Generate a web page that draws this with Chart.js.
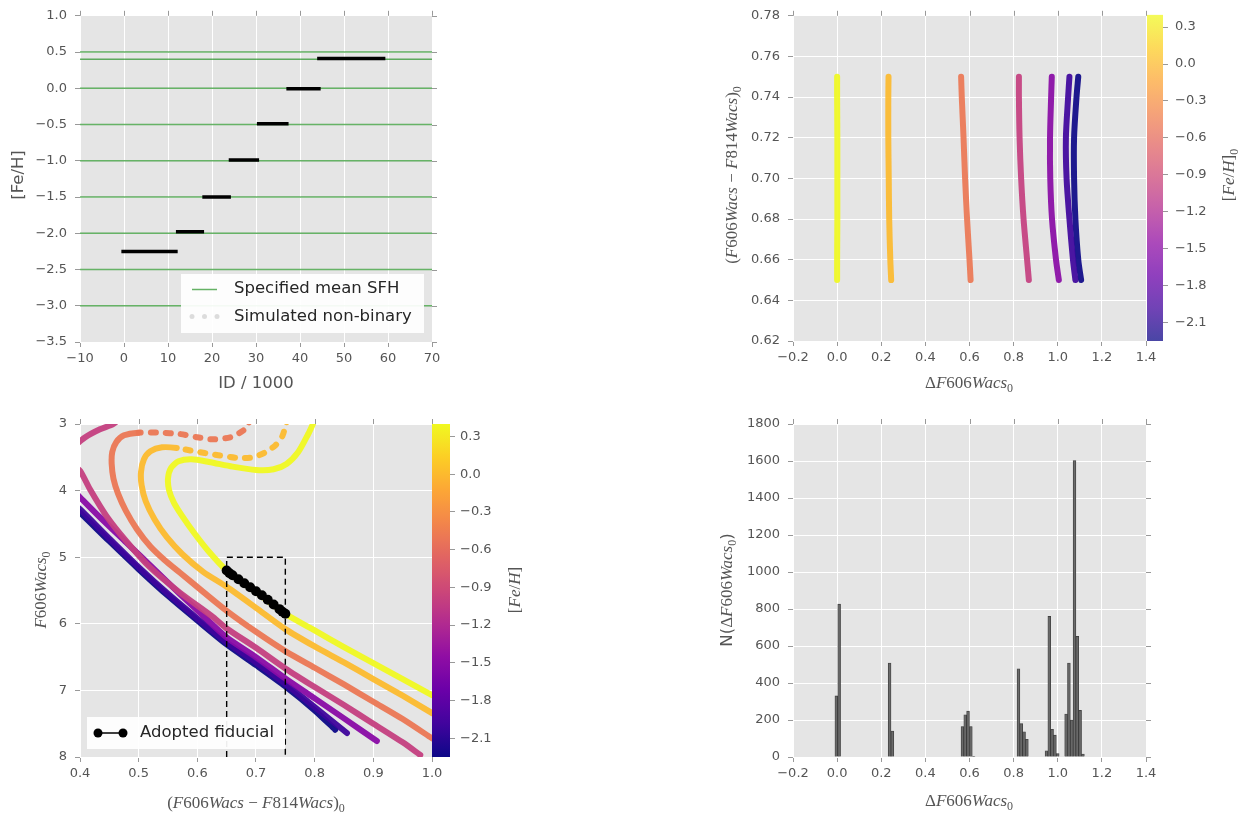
<!DOCTYPE html>
<html><head><meta charset="utf-8">
<script src="https://cdn.jsdelivr.net/npm/chart.js@4.4.1/dist/chart.umd.min.js"></script>
<style>
html,body{margin:0;padding:0;background:#fff;}
#wrap{position:relative;width:1254px;height:816px;overflow:hidden;background:#fff;}
#wrap canvas{position:absolute;left:0;top:0;}
</style></head><body><div id="wrap">
<canvas id="c1" width="1254" height="816"></canvas>
<canvas id="c2" width="1254" height="816"></canvas>
<canvas id="c2cb" width="1254" height="816"></canvas>
<canvas id="c3" width="1254" height="816"></canvas>
<canvas id="c3cb" width="1254" height="816"></canvas>
<canvas id="c4" width="1254" height="816"></canvas>
</div>
<script>
// ---------------- DATA ----------------
// Panel 1: [Fe/H] vs ID/1000
const p1XTicks = [-10, 0, 10, 20, 30, 40, 50, 60, 70];
const p1YTicks = [-3.5, -3.0, -2.5, -2.0, -1.5, -1.0, -0.5, 0.0, 0.5, 1.0];
const sfhLevels = [0.5, 0.4, 0.0, -0.5, -1.0, -1.5, -2.0, -2.5, -3.0];
const simFeH = [-2.25, -1.98, -1.5, -0.99, -0.49, -0.005, 0.41];
const simIdStart = [-0.6, 11.8, 17.8, 23.8, 30.2, 36.9, 43.9];
const simIdEnd = [12.2, 18.2, 24.3, 30.7, 37.4, 44.7, 59.4];

// Panel 2: colour vs Delta F606W, one track per [Fe/H]
const p2XTicks = [-0.2, 0.0, 0.2, 0.4, 0.6, 0.8, 1.0, 1.2, 1.4];
const p2YTicks = [0.62, 0.64, 0.66, 0.68, 0.70, 0.72, 0.74, 0.76, 0.78];
const trackColour = [0.65, 0.66, 0.68, 0.70, 0.72, 0.74, 0.75];
const trackFeH = [0.4, 0.0, -0.5, -1.0, -1.5, -2.0, -2.25];
const dF_p040 = [0.000, 0.000, 0.001, 0.001, 0.001, 0.000, 0.000];
const dF_p000 = [0.245, 0.241, 0.236, 0.234, 0.232, 0.232, 0.233];
const dF_m050 = [0.605, 0.600, 0.589, 0.580, 0.573, 0.565, 0.562];
const dF_m100 = [0.869, 0.861, 0.845, 0.834, 0.827, 0.824, 0.824];
const dF_m150 = [1.005, 0.992, 0.974, 0.966, 0.965, 0.970, 0.973];
const dF_m200 = [1.080, 1.069, 1.053, 1.040, 1.037, 1.047, 1.053];
const dF_m225 = [1.106, 1.093, 1.080, 1.074, 1.074, 1.085, 1.093];

// Colour bars
const cbRange = [-2.25, 0.4];
const cbTicks = [0.3, 0.0, -0.3, -0.6, -0.9, -1.2, -1.5, -1.8, -2.1];

// Panel 3: CMD isochrones
const p3XTicks = [0.4, 0.5, 0.6, 0.7, 0.8, 0.9, 1.0];
const p3YTicks = [3, 4, 5, 6, 7, 8];
const isoC_p040 = [0.802,0.797,0.789,0.772,0.752,0.730,0.700,0.660,0.620,0.590,0.568,0.555,0.550,0.552,0.560,0.574,0.594,0.618,0.650,0.700,0.750,0.800,0.850,0.900,0.950,1.000];
const isoM_p040 = [2.90,3.00,3.15,3.42,3.60,3.68,3.69,3.64,3.57,3.53,3.56,3.66,3.82,4.00,4.18,4.38,4.63,4.90,5.20,5.52,5.85,6.10,6.35,6.59,6.83,7.07];
const isoC_p000 = [0.755,0.751,0.745,0.733,0.715,0.695,0.670,0.630,0.595,0.565,0.540,0.520,0.509,0.504,0.505,0.512,0.527,0.548,0.575,0.610,0.650,0.700,0.750,0.800,0.850,0.900,0.950,1.000];
const isoM_p000 = [2.90,3.00,3.18,3.32,3.43,3.50,3.51,3.46,3.41,3.36,3.35,3.41,3.53,3.72,3.92,4.16,4.43,4.70,4.96,5.22,5.445,5.76,6.08,6.34,6.58,6.83,7.08,7.34];
const isoC_m050 = [0.690,0.687,0.678,0.656,0.627,0.600,0.570,0.536,0.500,0.475,0.462,0.455,0.454,0.457,0.465,0.478,0.497,0.520,0.545,0.570,0.610,0.650,0.700,0.750,0.800,0.850,0.900,0.950,1.000];
const isoM_m050 = [2.90,3.00,3.10,3.20,3.23,3.20,3.15,3.13,3.13,3.17,3.27,3.42,3.60,3.82,4.05,4.30,4.58,4.84,5.05,5.23,5.52,5.805,6.12,6.41,6.66,6.91,7.17,7.43,7.72];
const isoC_m100 = [0.470,0.457,0.434,0.409,0.390,0.385,0.388,0.400,0.417,0.445,0.479,0.519,0.570,0.627,0.650,0.700,0.750,0.800,0.850,0.900,0.950,0.980];
const isoM_m100 = [2.90,3.00,3.08,3.20,3.35,3.50,3.62,3.70,3.98,4.38,4.76,5.15,5.53,5.90,6.07,6.36,6.67,6.95,7.22,7.50,7.78,7.97];
const isoC_m150 = [0.380,0.400,0.434,0.479,0.525,0.570,0.610,0.650,0.700,0.750,0.800,0.850,0.906];
const isoM_m150 = [3.93,4.10,4.40,4.78,5.17,5.55,5.88,6.205,6.50,6.82,7.12,7.42,7.76];
const isoC_m200 = [0.380,0.400,0.450,0.500,0.550,0.600,0.650,0.700,0.750,0.800,0.855];
const isoM_m200 = [4.12,4.28,4.72,5.15,5.55,5.92,6.28,6.58,6.90,7.25,7.64];
const isoC_m225 = [0.380,0.400,0.450,0.500,0.550,0.600,0.650,0.700,0.750,0.800,0.835];
const isoM_m225 = [4.17,4.33,4.76,5.18,5.58,5.95,6.31,6.62,6.94,7.30,7.59];
const fidColour = [0.650,0.655,0.660,0.670,0.680,0.690,0.700,0.710,0.720,0.730,0.740,0.745,0.750];
const fidMag    = [5.20,5.24,5.27,5.33,5.39,5.45,5.51,5.57,5.64,5.71,5.78,5.82,5.85];
const boxColour = [0.65, 0.65, 0.75, 0.75];
const boxMag    = [8.0, 5.0, 5.0, 8.0];

// Panel 4: histogram of Delta F606W
const p4XTicks = [-0.2, 0.0, 0.2, 0.4, 0.6, 0.8, 1.0, 1.2, 1.4];
const p4YTicks = [0, 200, 400, 600, 800, 1000, 1200, 1400, 1600, 1800];
const histCenters = [-0.0035, 0.0092, 0.2378, 0.2505, 0.5680, 0.5807, 0.5934, 0.6061, 0.6188,
  0.8220, 0.8347, 0.8474, 0.8601, 0.9490, 0.9617, 0.9744, 0.9871, 0.9998,
  1.0379, 1.0506, 1.0633, 1.0760, 1.0887, 1.1014, 1.1141];
const histCounts = [330, 826, 508, 140, 165, 228, 248, 165, 4,
  477, 180, 136, 96, 34, 760, 150, 118, 18,
  232, 508, 200, 1602, 652, 252, 16];

// ---------------- HELPERS ----------------
const W = 1254, H = 816;
const SANS = '"DejaVu Sans", sans-serif';
Chart.defaults.font.family = SANS;
Chart.defaults.color = '#555';
const PLASMA = ['#0d0887','#41049d','#6a00a8','#8f0da4','#b12a90','#cc4778','#e16462','#f2844b','#fca636','#fcce25','#f0f921'];
function hex2rgb(h){ return [parseInt(h.slice(1,3),16), parseInt(h.slice(3,5),16), parseInt(h.slice(5,7),16)]; }
function plasma(t, a) {
  t = Math.max(0, Math.min(1, t));
  const s = t * (PLASMA.length - 1), i = Math.min(Math.floor(s), PLASMA.length - 2), f = s - i;
  const c0 = hex2rgb(PLASMA[i]), c1 = hex2rgb(PLASMA[i + 1]);
  const c = c0.map((v, k) => Math.round(v + (c1[k] - v) * f));
  return 'rgba(' + c[0] + ',' + c[1] + ',' + c[2] + ',' + (a == null ? 1 : a) + ')';
}
const fehColour = (feh, a) => plasma((feh - cbRange[0]) / (cbRange[1] - cbRange[0]), a);
function plasmaGrad(chart, alpha) {
  const a = chart.chartArea; if (!a) return 'rgba(0,0,0,0)';
  const g = chart.ctx.createLinearGradient(0, a.bottom, 0, a.top);
  for (let i = 0; i <= 40; i++) g.addColorStop(i / 40, plasma(i / 40, alpha));
  return g;
}
function fmt(v, d) { return (v < -1e-9 ? '\u2212' : '') + Math.abs(v).toFixed(d); }
const pts = (xs, ys) => xs.map((x, i) => ({x: x, y: ys[i]}));

function axis(o) {
  return {
    type: 'linear', min: o.min, max: o.max, reverse: !!o.reverse, position: o.position, offset: false,
    afterFit: s => { if (s.isHorizontal()) s.height = o.size; else s.width = o.size; },
    afterBuildTicks: s => { s.ticks = o.ticks.map(v => ({value: v})); },
    grid: { display: true, color: '#ffffff', lineWidth: 1, drawOnChartArea: o.grid !== false, drawTicks: true,
            tickLength: 5, tickColor: '#999', offset: false },
    border: { display: false },
    ticks: { autoSkip: false, maxRotation: 0, minRotation: 0, padding: o.pad, color: '#555',
             font: { family: SANS, size: 13 }, callback: v => fmt(v, o.dec) }
  };
}
function pad(area, yw, xh, rw) {
  return { left: area.l - (yw || 0), top: area.t, right: W - area.r - (rw || 0), bottom: H - area.b - (xh || 0) };
}
function math(str, size) {
  const parts = []; let i = 0;
  while (i < str.length) {
    const ch = str[i];
    if (ch === '_') { parts.push({t: str[i + 1], f: Math.round(size * 0.7) + 'px "Liberation Serif"', dy: size * 0.25}); i += 2; continue; }
    const f = (/[A-Za-z]/.test(ch) ? 'italic ' : '') + size + 'px "Liberation Serif"';
    const last = parts[parts.length - 1];
    if (last && last.f === f && !last.dy) last.t += ch; else parts.push({t: ch, f: f});
    i++;
  }
  return parts;
}
function drawRich(ctx, parts, cx, cy, rot, size, color) {
  ctx.save(); ctx.translate(cx, cy); ctx.rotate(rot || 0);
  ctx.fillStyle = color || '#555'; ctx.textBaseline = 'alphabetic'; ctx.textAlign = 'left';
  let total = 0;
  parts.forEach(p => { ctx.font = p.f; p.w = ctx.measureText(p.t).width; total += p.w; });
  let x = -total / 2; const base = size * 0.34;
  parts.forEach(p => { ctx.font = p.f; ctx.fillText(p.t, x, base + (p.dy || 0)); x += p.w; });
  ctx.restore();
}
function decor(cfg) {
  return {
    id: 'decor',
    beforeDraw(chart) {
      if (!cfg.bg) return;
      const a = chart.chartArea, c = chart.ctx;
      c.save(); c.fillStyle = cfg.bg; c.fillRect(a.left, a.top, a.right - a.left, a.bottom - a.top); c.restore();
    },
    afterDraw(chart) {
      const a = chart.chartArea, c = chart.ctx;
      c.save(); c.strokeStyle = '#999'; c.lineWidth = 1; c.beginPath();
      if (cfg.top) chart.scales.x.ticks.forEach(t => { const p = Math.round(chart.scales.x.getPixelForValue(t.value)) + 0.5; c.moveTo(p, a.top); c.lineTo(p, a.top - 5); });
      if (cfg.right) chart.scales.y.ticks.forEach(t => { const p = Math.round(chart.scales.y.getPixelForValue(t.value)) + 0.5; c.moveTo(a.right, p); c.lineTo(a.right + 5, p); });
      c.stroke(); c.restore();
      (cfg.texts || []).forEach(t => drawRich(c, t.parts, t.x, t.y, t.rot, t.size, t.color));
      if (cfg.legend) cfg.legend(c);
    }
  };
}
function baseOptions(padding, scales) {
  return { responsive: false, animation: false, devicePixelRatio: 1, events: [],
           layout: { padding: padding }, plugins: { legend: { display: false }, tooltip: { enabled: false } }, scales: scales };
}
const sansPart = (t, s) => [{t: t, f: s + 'px ' + SANS}];
const ROT = -Math.PI / 2;

// ---------------- PANEL 1 ----------------
const A1 = {l: 80, t: 8, r: 432, b: 342};
const segPts = [];
simFeH.forEach((f, i) => { segPts.push({x: simIdStart[i], y: f}, {x: simIdEnd[i], y: f}, {x: simIdEnd[i], y: null}); });
const sfhPts = [];
sfhLevels.forEach(L => { const x0 = p1XTicks[0], x1 = p1XTicks[p1XTicks.length - 1]; sfhPts.push({x: x0, y: L}, {x: x1, y: L}, {x: x1, y: null}); });
new Chart(document.getElementById('c1'), {
  type: 'scatter',
  data: { datasets: [
    { label: 'Simulated non-binary', data: segPts, showLine: true, borderColor: '#000', borderWidth: 3.5, pointRadius: 0, clip: 0, spanGaps: false },
    { label: 'Specified mean SFH', data: sfhPts, showLine: true, borderColor: 'rgba(0,128,0,0.6)', borderWidth: 1.5, pointRadius: 0, clip: 0, spanGaps: false }
  ]},
  options: baseOptions(pad(A1, 80, 40), {
    x: axis({min: -10, max: 70, ticks: p1XTicks, dec: 0, size: 40, pad: 4, position: 'bottom'}),
    y: axis({min: -3.5, max: 1.0, ticks: p1YTicks, dec: 1, size: 80, pad: 8, position: 'left'})
  }),
  plugins: [decor({ bg: '#e5e5e5', top: true, right: true,
    texts: [ {parts: sansPart('[Fe/H]', 16.5), x: 17, y: 175, rot: ROT, size: 16.5},
             {parts: sansPart('ID / 1000', 16.5), x: 256, y: 382, rot: 0, size: 16.5} ],
    legend: c => {
      c.save();
      c.fillStyle = 'rgba(255,255,255,0.93)'; c.fillRect(181, 274, 243, 59);
      c.strokeStyle = 'rgba(0,128,0,0.6)'; c.lineWidth = 1.5; c.beginPath(); c.moveTo(192, 289.5); c.lineTo(217, 289.5); c.stroke();
      c.fillStyle = 'rgba(0,0,0,0.13)'; [192, 204.5, 217].forEach(x => { c.beginPath(); c.arc(x, 316.5, 2.5, 0, 2 * Math.PI); c.fill(); });
      c.fillStyle = '#262626'; c.font = '16.5px ' + SANS; c.textBaseline = 'middle'; c.textAlign = 'left';
      c.fillText('Specified mean SFH', 234, 289); c.fillText('Simulated non-binary', 234, 317);
      c.restore();
    } })]
});

// ---------------- PANEL 2 ----------------
const A2 = {l: 793, t: 9, r: 1146, b: 341};
const trackDF = [dF_p040, dF_p000, dF_m050, dF_m100, dF_m150, dF_m200, dF_m225];
new Chart(document.getElementById('c2'), {
  type: 'scatter',
  data: { datasets: trackFeH.map((f, i) => ({
    label: String(f), data: pts(trackDF[i], trackColour), showLine: true, tension: 0.3,
    borderColor: fehColour(f, 0.92), borderWidth: 6, borderCapStyle: 'round', borderJoinStyle: 'round', pointRadius: 0, clip: 0 })) },
  options: baseOptions(pad(A2, 80, 40), {
    x: axis({min: -0.2, max: 1.4, ticks: p2XTicks, dec: 1, size: 40, pad: 4, position: 'bottom'}),
    y: axis({min: 0.62, max: 0.78, ticks: p2YTicks, dec: 2, size: 80, pad: 8, position: 'left'})
  }),
  plugins: [decor({ bg: '#e5e5e5', top: true, right: false,
    texts: [ {parts: math('(F606Wacs \u2212 F814Wacs)_0', 17), x: 731, y: 175, rot: ROT, size: 17},
             {parts: math('\u0394F606Wacs_0', 17), x: 969, y: 382, rot: 0, size: 17} ] })]
});

// colour bar for panel 2
const A2cb = {l: 1147, t: 9, r: 1163, b: 341};
new Chart(document.getElementById('c2cb'), {
  type: 'bar',
  data: { labels: [''], datasets: [{ data: [[cbRange[0], cbRange[1]]], backgroundColor: ctx => plasmaGrad(ctx.chart, 0.75),
    borderWidth: 0, barPercentage: 1, categoryPercentage: 1 }] },
  options: baseOptions(pad(A2cb, 0, 0, 60), {
    x: { display: false },
    y: axis({min: cbRange[0], max: cbRange[1], ticks: cbTicks, dec: 1, size: 60, pad: 7, position: 'right', grid: false})
  }),
  plugins: [decor({ texts: [ {parts: math('[Fe/H]_0', 17), x: 1228, y: 175, rot: ROT, size: 17} ] })]
});

// ---------------- PANEL 3 ----------------
const A3 = {l: 80, t: 424, r: 432, b: 757};
const isoC = [isoC_p040, isoC_p000, isoC_m050, isoC_m100, isoC_m150, isoC_m200, isoC_m225];
const isoM = [isoM_p040, isoM_p000, isoM_m050, isoM_m100, isoM_m150, isoM_m200, isoM_m225];
// sparse (dashed-looking) sub-giant stretches: [minColour, maxMag] per isochrone, null = solid
const sparseZone = [null, [0.585, 3.6], [0.53, 3.3], null, null, null, null];
const isoSets = trackFeH.map((f, i) => ({
  label: String(f), data: pts(isoC[i], isoM[i]), showLine: true, tension: 0.25,
  borderColor: fehColour(f, 0.95), borderWidth: 6, borderCapStyle: 'round', borderJoinStyle: 'round', pointRadius: 0, clip: 0,
  segment: { borderDash: ctx => {
    const z = sparseZone[i]; if (!z) return undefined;
    return (ctx.p0.parsed.x > z[0] && ctx.p0.parsed.y < z[1] && ctx.p1.parsed.y < z[1]) ? [5, 10] : undefined; } } }));
new Chart(document.getElementById('c3'), {
  type: 'scatter',
  data: { datasets: [
    { label: 'Adopted fiducial', data: pts(fidColour, fidMag), showLine: true, borderColor: '#000', borderWidth: 3,
      pointRadius: 5, pointBackgroundColor: '#000', pointBorderWidth: 0, clip: 0 },
    { label: 'box', data: pts(boxColour, boxMag), showLine: true, borderColor: '#000', borderWidth: 1.4, borderDash: [6, 4],
      pointRadius: 0, clip: 0 }
  ].concat(isoSets) },
  options: baseOptions(pad(A3, 80, 40), {
    x: axis({min: 0.4, max: 1.0, ticks: p3XTicks, dec: 1, size: 40, pad: 4, position: 'bottom'}),
    y: axis({min: 3, max: 8, reverse: true, ticks: p3YTicks, dec: 0, size: 80, pad: 8, position: 'left'})
  }),
  plugins: [decor({ bg: '#e5e5e5', top: true, right: false,
    texts: [ {parts: math('F606Wacs_0', 17), x: 40, y: 590, rot: ROT, size: 17},
             {parts: math('(F606Wacs \u2212 F814Wacs)_0', 17), x: 256, y: 802, rot: 0, size: 17} ],
    legend: c => {
      c.save();
      c.fillStyle = 'rgba(255,255,255,0.93)'; c.fillRect(87, 717, 198, 32);
      c.strokeStyle = '#000'; c.lineWidth = 1.5; c.beginPath(); c.moveTo(98, 733); c.lineTo(123, 733); c.stroke();
      c.fillStyle = '#000'; [98, 123].forEach(x => { c.beginPath(); c.arc(x, 733, 4.5, 0, 2 * Math.PI); c.fill(); });
      c.fillStyle = '#262626'; c.font = '16.5px ' + SANS; c.textBaseline = 'middle'; c.textAlign = 'left';
      c.fillText('Adopted fiducial', 140, 733);
      c.restore();
    } })]
});

// colour bar for panel 3
const A3cb = {l: 432, t: 424, r: 450, b: 757};
new Chart(document.getElementById('c3cb'), {
  type: 'bar',
  data: { labels: [''], datasets: [{ data: [[cbRange[0], cbRange[1]]], backgroundColor: ctx => plasmaGrad(ctx.chart, 1),
    borderWidth: 0, barPercentage: 1, categoryPercentage: 1 }] },
  options: baseOptions(pad(A3cb, 0, 0, 60), {
    x: { display: false },
    y: axis({min: cbRange[0], max: cbRange[1], ticks: cbTicks, dec: 1, size: 60, pad: 5, position: 'right', grid: false})
  }),
  plugins: [decor({ texts: [ {parts: math('[Fe/H]', 17), x: 514, y: 590, rot: ROT, size: 17} ] })]
});

// ---------------- PANEL 4 ----------------
const A4 = {l: 793, t: 424, r: 1146, b: 757};
new Chart(document.getElementById('c4'), {
  type: 'bar',
  data: { datasets: [{ label: 'N', data: pts(histCenters, histCounts), backgroundColor: 'rgba(95,95,95,0.9)',
    borderColor: 'rgba(40,40,40,0.9)', borderWidth: 0.6, barPercentage: 1, categoryPercentage: 1 }] },
  options: baseOptions(pad(A4, 80, 40), {
    x: axis({min: -0.2, max: 1.4, ticks: p4XTicks, dec: 1, size: 40, pad: 4, position: 'bottom'}),
    y: axis({min: 0, max: 1800, ticks: p4YTicks, dec: 0, size: 80, pad: 8, position: 'left'})
  }),
  plugins: [decor({ bg: '#e5e5e5', top: true, right: true,
    texts: [ {parts: sansPart('N(', 16.5).concat(math('\u0394F606Wacs_0', 17), sansPart(')', 16.5)), x: 726, y: 590, rot: ROT, size: 17},
             {parts: math('\u0394F606Wacs_0', 17), x: 969, y: 800, rot: 0, size: 17} ] })]
});
</script></body></html>
